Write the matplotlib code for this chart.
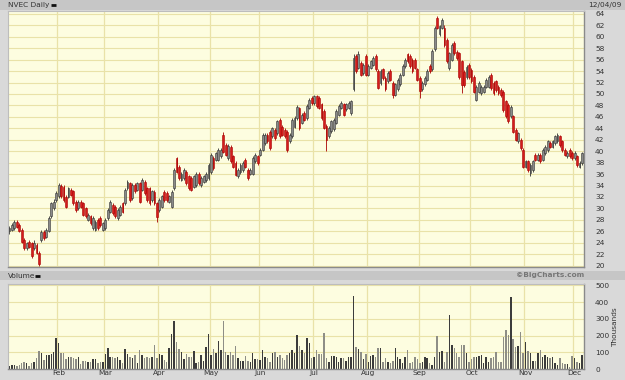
import matplotlib
matplotlib.use("Agg")
import matplotlib.pyplot as plt
from matplotlib.lines import Line2D
from matplotlib.patches import Rectangle
import numpy as np
import pandas as pd

# ---------------- data ----------------
holidays = ["2009-01-19", "2009-02-16", "2009-04-10", "2009-05-25",
            "2009-07-03", "2009-09-07", "2009-11-26"]
month_labels = ["Feb", "Mar", "Apr", "May", "Jun", "Jul", "Aug", "Sep", "Oct", "Nov", "Dec"]
price_ticks = list(range(20, 66, 2))
volume_ticks = [0, 100, 200, 300, 400, 500]

opens = [
    26.0, 26.2, 26.5, 27.7, 27.1, 26.2, 24.5, 23.0, 24.2, 23.9, 23.0, 23.6, 22.2, 24.5, 25.9, 25.0, 26.0, 28.6, 30.0, 31.5,
    32.1, 34.0, 33.8, 32.0, 32.0, 33.2, 33.0, 31.2, 30.0, 31.2, 30.9, 30.0, 28.0, 28.6, 26.5, 26.2, 28.0, 28.3, 26.2,
    26.5, 28.3, 29.4, 30.6, 30.3, 28.3, 28.9, 30.9, 30.9, 33.5, 34.4, 31.8, 34.1, 33.2, 34.4, 33.2, 34.7, 33.5, 33.5, 31.5, 32.9, 30.9,
    29.7, 30.3, 32.9, 32.7, 31.2, 30.3, 33.5, 38.8, 37.3, 35.0, 35.3, 36.4, 35.6, 35.3, 33.8, 34.1, 36.1, 34.1, 34.7, 35.0, 35.3,
    36.4, 38.8, 38.5, 38.5, 39.1, 42.9, 41.1, 38.8, 40.8, 39.1, 37.9, 35.6, 36.4, 36.7, 38.5, 36.7, 36.1, 36.1, 38.2, 39.1,
    39.4, 40.2, 41.4, 42.9, 43.4, 42.6, 43.7, 43.1, 45.5, 44.3, 43.7, 43.4, 41.7, 42.6, 44.3, 45.8, 47.5, 45.0, 46.7, 45.8, 47.6, 49.3,
    48.4, 49.6, 49.3, 48.2, 47.0, 44.4, 42.6, 43.5, 43.8, 45.0, 46.4, 47.6, 48.2, 47.3, 47.6, 46.7, 50.8, 56.6, 54.6, 55.4, 53.7, 56.6,
    53.4, 54.6, 55.1, 56.6, 54.0, 51.9, 54.3, 52.8, 52.2, 54.0, 51.9, 49.9, 50.8, 51.7, 53.4, 54.9, 56.9, 56.6, 56.0, 56.0,
    54.3, 52.8, 50.8, 51.7, 52.5, 54.9, 54.3, 57.8, 63.3, 60.4, 61.6, 61.6, 59.4, 54.5, 56.0, 58.9, 57.4, 57.1, 55.7, 53.9, 53.0, 55.1,
    54.2, 53.0, 49.0, 50.4, 50.1, 50.4, 51.3, 51.3, 53.3, 51.9, 52.2, 51.3, 50.7, 50.4, 48.7, 48.1, 46.1, 46.1, 43.7, 41.7, 42.0, 40.2,
    37.3, 38.2, 36.2, 36.7, 39.4, 38.5, 39.4, 38.5, 39.7, 40.2, 41.4, 40.8, 41.4, 41.7, 42.6, 41.7, 40.2, 39.1, 40.2, 39.7,
    38.8, 39.1, 37.3, 37.9,
]
highs = [
    26.9, 27.4, 28.0, 28.0, 27.4, 26.5, 24.8, 24.2, 24.5, 24.2, 24.4, 23.9, 22.5, 26.2, 26.2, 26.5, 28.6, 31.2, 31.6, 33.0,
    34.4, 34.3, 34.1, 32.3, 33.8, 33.5, 33.2, 31.5, 31.5, 31.5, 31.2, 30.3, 29.2, 28.9, 28.6, 28.0, 28.3, 28.6, 27.7,
    28.3, 30.0, 31.5, 30.9, 30.6, 30.0, 30.6, 31.2, 33.5, 35.0, 34.7, 34.4, 34.4, 34.7, 34.7, 35.3, 35.0, 33.8, 33.8, 33.2, 33.2, 31.2,
    31.8, 32.4, 33.2, 33.0, 32.4, 33.2, 37.0, 39.0, 37.6, 36.4, 37.0, 36.7, 35.9, 35.6, 35.9, 36.4, 36.4, 35.6, 35.9, 36.4, 37.9,
    39.7, 39.1, 39.9, 40.5, 40.5, 43.3, 41.4, 41.2, 41.1, 39.4, 38.2, 37.0, 37.9, 38.2, 38.8, 37.0, 37.0, 39.1, 39.7, 39.4,
    40.5, 43.2, 43.2, 43.2, 43.7, 44.3, 44.0, 45.5, 45.8, 44.6, 44.0, 43.7, 43.2, 45.8, 46.1, 48.1, 47.8, 46.7, 47.0, 48.2, 49.3, 49.6,
    49.9, 49.9, 49.6, 48.5, 47.3, 44.7, 44.4, 45.5, 45.8, 47.3, 48.2, 48.7, 48.5, 48.5, 48.7, 49.0, 56.9, 57.0, 57.5, 55.7, 55.4, 56.9,
    55.2, 56.0, 56.6, 56.9, 54.3, 54.3, 54.6, 53.1, 54.0, 54.3, 52.2, 52.0, 52.8, 53.7, 55.2, 56.3, 57.2, 56.9, 56.3, 56.3,
    54.6, 53.1, 52.2, 53.1, 54.3, 55.2, 57.8, 61.9, 63.6, 62.1, 63.3, 62.0, 59.8, 57.4, 58.9, 59.2, 57.7, 57.4, 56.0, 54.2, 55.1, 55.4,
    54.5, 53.3, 51.6, 52.2, 51.6, 51.6, 52.8, 53.3, 53.6, 52.2, 52.5, 51.6, 51.0, 50.7, 49.0, 48.4, 48.1, 46.4, 44.0, 43.4, 42.3, 40.5,
    38.5, 38.5, 37.9, 38.5, 39.7, 39.7, 39.7, 40.5, 41.1, 42.0, 41.7, 42.0, 42.9, 43.2, 42.9, 42.0, 40.5, 40.0, 40.5, 40.0,
    40.0, 39.4, 38.2, 39.9,
]
lows = [
    25.6, 26.0, 26.3, 26.6, 25.8, 24.0, 22.8, 22.7, 23.0, 21.4, 22.8, 22.0, 20.0, 24.2, 24.5, 24.8, 25.8, 28.3, 29.7, 31.2,
    31.8, 31.8, 31.2, 30.0, 31.8, 32.1, 30.6, 29.4, 29.8, 30.0, 28.6, 28.3, 27.8, 27.1, 26.2, 26.0, 26.2, 26.8, 26.0,
    26.3, 28.0, 29.2, 28.9, 28.3, 28.0, 28.6, 29.2, 30.6, 33.2, 31.2, 31.5, 32.7, 33.0, 30.9, 33.0, 32.4, 31.2, 30.6, 31.2, 30.6, 27.6,
    29.4, 30.0, 31.2, 31.2, 30.9, 30.0, 33.2, 36.2, 35.0, 34.8, 35.0, 34.1, 33.2, 33.0, 33.5, 33.8, 34.1, 33.8, 34.4, 34.7, 35.0,
    36.1, 36.7, 38.2, 38.2, 38.8, 39.6, 39.1, 38.5, 37.9, 37.0, 35.6, 35.3, 36.1, 36.4, 37.0, 35.0, 35.8, 35.8, 37.9, 37.6,
    39.1, 40.0, 41.1, 41.4, 40.2, 42.3, 42.0, 42.9, 42.3, 42.6, 42.3, 39.9, 41.4, 42.3, 44.0, 45.5, 43.7, 44.7, 45.2, 45.5, 47.3, 48.1,
    48.1, 47.6, 47.3, 45.5, 43.8, 40.0, 42.3, 43.2, 43.5, 44.7, 46.1, 47.3, 46.1, 47.0, 47.3, 46.4, 50.5, 53.7, 54.3, 53.1, 53.4, 53.1,
    53.1, 54.3, 54.9, 54.0, 50.8, 51.6, 52.5, 50.5, 51.9, 52.2, 49.3, 49.6, 50.5, 51.4, 53.1, 54.6, 55.4, 54.6, 53.7, 54.3,
    52.2, 49.3, 50.5, 51.4, 52.2, 53.7, 54.0, 57.5, 61.3, 60.1, 61.3, 58.2, 55.4, 54.2, 55.7, 56.8, 56.0, 52.7, 50.2, 51.3, 52.7, 52.7,
    51.9, 50.1, 48.7, 50.1, 49.8, 50.1, 51.0, 51.0, 50.7, 49.8, 50.4, 49.8, 49.5, 46.9, 45.8, 44.9, 45.8, 43.1, 41.7, 41.4, 40.2, 37.0,
    37.0, 36.4, 35.6, 36.4, 38.2, 38.2, 37.9, 38.2, 39.4, 39.9, 40.5, 40.5, 41.1, 41.4, 40.8, 39.9, 39.1, 38.8, 38.8, 38.5,
    38.5, 37.3, 37.0, 37.6,
]
closes = [
    26.6, 27.1, 27.7, 26.8, 26.0, 24.2, 23.0, 23.9, 23.3, 21.6, 24.0, 22.2, 20.3, 25.9, 24.8, 26.2, 28.3, 30.9, 31.2, 32.7,
    34.1, 32.1, 31.5, 30.3, 33.5, 32.4, 30.9, 29.7, 31.2, 30.3, 28.9, 28.6, 28.9, 27.4, 28.3, 27.7, 26.5, 27.1, 27.4,
    28.0, 29.7, 31.2, 29.2, 28.6, 29.7, 30.3, 29.4, 33.2, 34.7, 31.5, 34.1, 33.0, 34.4, 31.2, 35.0, 32.7, 31.5, 30.9, 33.0, 30.9, 28.5,
    31.5, 32.1, 31.5, 31.5, 32.1, 32.9, 36.7, 36.4, 35.3, 36.1, 36.7, 34.4, 33.5, 33.2, 35.6, 36.1, 34.4, 35.3, 35.6, 36.1, 37.6,
    39.4, 37.0, 39.6, 40.2, 40.2, 39.9, 39.4, 40.9, 38.2, 37.3, 35.9, 36.7, 37.6, 37.9, 37.3, 35.3, 36.7, 38.8, 39.4, 37.9,
    40.2, 42.9, 42.9, 41.7, 40.5, 44.0, 42.3, 45.2, 42.6, 42.9, 42.6, 40.2, 42.9, 45.5, 45.8, 47.8, 44.0, 46.4, 45.5, 47.9, 49.0, 48.4,
    49.6, 47.9, 47.6, 45.8, 44.1, 42.0, 44.1, 45.2, 45.5, 47.0, 47.9, 48.4, 46.4, 48.2, 48.4, 48.7, 56.3, 54.0, 56.9, 53.4, 55.1, 53.4,
    54.9, 55.7, 56.3, 54.3, 51.1, 54.0, 52.8, 50.8, 53.7, 52.5, 49.9, 51.7, 52.5, 53.4, 54.9, 56.0, 55.7, 54.9, 54.0, 54.6,
    52.5, 50.5, 51.9, 52.8, 54.0, 54.0, 57.5, 61.6, 61.6, 61.8, 63.0, 58.5, 55.7, 57.1, 58.6, 57.1, 56.3, 53.0, 51.6, 51.6, 54.8, 53.0,
    52.2, 50.4, 51.3, 51.9, 51.3, 51.3, 52.5, 53.0, 51.0, 50.1, 50.7, 50.1, 49.8, 47.2, 46.1, 45.2, 47.8, 43.4, 42.0, 43.1, 40.5, 37.3,
    38.2, 36.7, 37.6, 38.2, 38.5, 39.4, 38.2, 40.2, 40.8, 41.7, 40.8, 41.7, 42.6, 42.9, 41.1, 40.2, 39.4, 39.7, 39.1, 38.8,
    39.7, 37.6, 37.9, 39.6,
]
# volume in thousands
volumes = [
    18, 26, 22, 20, 22, 34, 44, 38, 18, 38,
    44, 63, 107, 97, 54, 83, 83, 87, 103, 183,
    157, 97, 93, 58, 73, 73, 63, 58, 73, 30,
    48, 50, 44, 44, 60, 60, 38, 44, 44, 89,
    123, 73, 73, 63, 73, 54, 38, 117, 89, 73,
    63, 83, 34, 113, 83, 63, 73, 63, 73, 143,
    63, 89, 83, 54, 44, 123, 208, 286, 163, 117,
    103, 58, 89, 73, 69, 107, 38, 44, 83, 50,
    129, 212, 83, 117, 93, 169, 113, 288, 99, 83,
    99, 83, 137, 63, 50, 50, 77, 50, 44, 93,
    58, 58, 54, 113, 73, 63, 44, 93, 101, 73,
    83, 63, 54, 83, 93, 113, 93, 206, 137, 113,
    97, 183, 153, 63, 73, 113, 89, 89, 216, 63,
    44, 77, 77, 73, 44, 63, 67, 48, 73, 73,
    438, 129, 117, 103, 58, 89, 44, 77, 83, 73,
    123, 123, 44, 63, 44, 34, 50, 123, 73, 58,
    34, 73, 113, 38, 44, 73, 58, 34, 44, 73,
    63, 34, 24, 73, 196, 103, 109, 44, 103, 321,
    143, 123, 93, 73, 143, 143, 93, 44, 58, 73,
    73, 79, 83, 34, 73, 44, 63, 73, 103, 44,
    44, 192, 232, 206, 430, 178, 133, 137, 222, 93,
    163, 107, 97, 48, 48, 93, 113, 73, 83, 73,
    63, 69, 34, 24, 63, 34, 28, 30, 10, 79,
    63, 44, 38, 83,
]

# ---------------- derived ----------------
dates = pd.bdate_range("2009-01-02", "2009-12-04", freq="C", holidays=holidays)
n = len(opens)
x = np.arange(n)
o = np.array(opens); h = np.array(highs); l = np.array(lows); c = np.array(closes)
v = np.array(volumes)
up = c >= o
month_idx = [i for i in range(1, len(dates)) if dates[i].month != dates[i - 1].month]

W, H = 625, 380
BG = "#d9d9d9"
PANEL = "#fdfde0"
GRID = "#e9e2a8"
TXT = "#333333"
FS = 5.3

fig = plt.figure(figsize=(W / 100, H / 100), dpi=100, facecolor=BG)

def fbox(l_, t_, r_, b_):
    return [l_ / W, 1 - b_ / H, (r_ - l_) / W, (b_ - t_) / H]

# header bands
fig.add_artist(Rectangle((0, 1 - 9.5 / H), 1, 9.5 / H, transform=fig.transFigure,
                         facecolor="#c6c6c6", edgecolor="none", zorder=0))
fig.add_artist(Rectangle((0, 1 - 280 / H), 1, 9 / H, transform=fig.transFigure,
                         facecolor="#c6c6c6", edgecolor="none", zorder=0))

fig.text(8 / W, 1 - 5 / H, "NVEC Daily", fontsize=FS, color=TXT, va="center", ha="left")
fig.add_artist(Line2D([51 / W, 56 / W], [1 - 5 / H, 1 - 5 / H], transform=fig.transFigure,
                      color="#111111", lw=2.0, solid_capstyle="butt"))
fig.text(622 / W, 1 - 5 / H, "12/04/09", fontsize=FS, color=TXT, va="center", ha="right")
fig.text(8 / W, 1 - 275.5 / H, "Volume", fontsize=FS, color=TXT, va="center", ha="left")
fig.add_artist(Line2D([35 / W, 40 / W], [1 - 275.5 / H, 1 - 275.5 / H], transform=fig.transFigure,
                      color="#111111", lw=2.0, solid_capstyle="butt"))
fig.text(584 / W, 1 - 275.5 / H, "\u00a9BigCharts.com", fontsize=FS, color="#777777",
         va="center", ha="right", fontweight="bold")

# ---------------- price panel ----------------
ax = fig.add_axes(fbox(8, 11, 584, 266.5))
ax.set_facecolor(PANEL)
ax.set_xlim(-0.6, n - 0.2)
ax.set_ylim(19.85, 64.5)
for yv in price_ticks:
    ax.axhline(yv, color=GRID, lw=0.8, zorder=0)
for mi in month_idx:
    ax.axvline(mi - 0.5, color=GRID, lw=0.9, zorder=0)

up_col, up_edge = "#8a8a8a", "#333333"
dn_col, dn_edge = "#d41c1c", "#a80000"
ax.vlines(x[up], l[up], h[up], color=up_edge, lw=0.6, zorder=2)
ax.vlines(x[~up], l[~up], h[~up], color=dn_edge, lw=0.6, zorder=2)
body_lo = np.minimum(o, c)
body_h = np.maximum(np.abs(c - o), 0.15)
ax.bar(x[up], body_h[up], bottom=body_lo[up], width=0.75, color=up_col,
       edgecolor=up_edge, linewidth=0.4, zorder=3)
ax.bar(x[~up], body_h[~up], bottom=body_lo[~up], width=0.75, color=dn_col,
       edgecolor=dn_edge, linewidth=0.4, zorder=3)

ax.yaxis.tick_right()
ax.set_yticks(price_ticks)
ax.set_yticklabels([str(t) for t in price_ticks], fontsize=FS, color=TXT, ha="left")
ax.tick_params(axis="y", length=0, pad=8)
ax.set_xticks([])
for s in ["top", "left"]:
    ax.spines[s].set_color("#bdbdbd"); ax.spines[s].set_linewidth(0.8)
for s in ["bottom", "right"]:
    ax.spines[s].set_color("#8a8a8a"); ax.spines[s].set_linewidth(1.0)

# ---------------- volume panel ----------------
av = fig.add_axes(fbox(8, 284, 584, 369))
av.set_facecolor(PANEL)
av.set_xlim(-0.6, n - 0.2)
av.set_ylim(0, 508)
for yv in volume_ticks[1:]:
    av.axhline(yv, color=GRID, lw=0.8, zorder=0)
for mi in month_idx:
    av.axvline(mi - 0.5, color=GRID, lw=0.9, zorder=0)
av.bar(x[up], v[up], width=0.6, color="#3c3c3c", zorder=2)
av.bar(x[~up], v[~up], width=0.6, color="#8e8e86", zorder=2)

av.yaxis.tick_right()
av.set_yticks(volume_ticks)
av.set_yticklabels([str(t) for t in volume_ticks], fontsize=FS, color=TXT, ha="left")
av.tick_params(axis="y", length=0, pad=8)
av.set_xticks(month_idx)
av.set_xticklabels(month_labels, fontsize=FS, color=TXT)
av.tick_params(axis="x", length=0, pad=1)
for s in ["top", "left"]:
    av.spines[s].set_color("#bdbdbd"); av.spines[s].set_linewidth(0.8)
for s in ["bottom", "right"]:
    av.spines[s].set_color("#8a8a8a"); av.spines[s].set_linewidth(1.0)

fig.text(615 / W, 1 - 327 / H, "Thousands", fontsize=FS, color=TXT, rotation=90,
         va="center", ha="center")

fig.savefig("out.png", dpi=100, facecolor=BG)
